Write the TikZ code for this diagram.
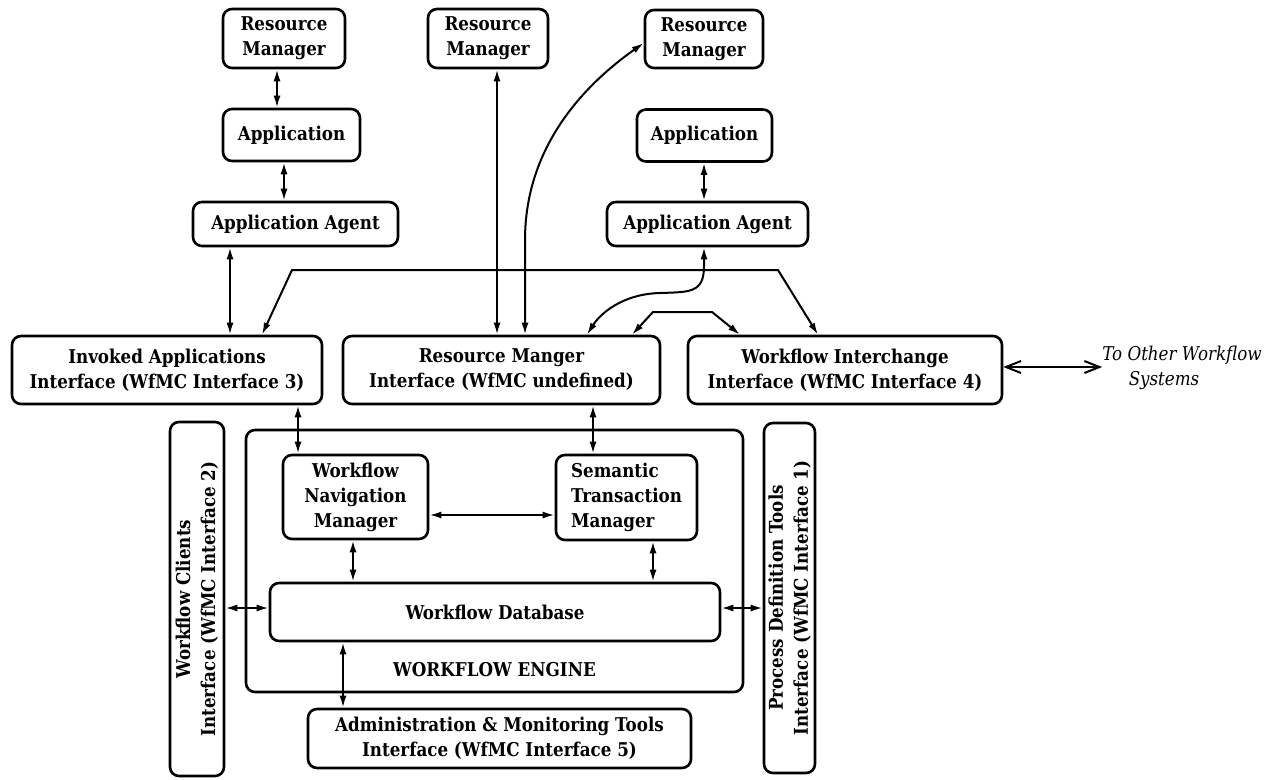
\documentclass[tikz,border=0pt]{standalone}
\usepackage{fontspec}
\newfontfamily\dv{DejaVu Serif}[FakeStretch=0.88]
\usetikzlibrary{arrows.meta,calc}
\begin{document}
\begin{tikzpicture}[x=1pt,y=-1pt,
  box/.style={draw,line width=2.6pt,rounded corners=9pt,align=center,inner sep=0pt,
    font=\dv\fontsize{19}{25}\selectfont\bfseries},
  dbl/.style={line width=2pt,{Latex[length=12pt,width=7pt]}-{Latex[length=12pt,width=7pt]}},
  barb/.style={line width=2pt,{Straight Barb[length=15pt,width=12pt,line width=2pt]}-{Straight Barb[length=15pt,width=12pt,line width=2pt]}},
  lbl/.style={font=\dv\fontsize{19}{25}\selectfont\bfseries,inner sep=0pt}]
\useasboundingbox (0,0) rectangle (1268,779);
% top row
\node[box,minimum width=122pt,minimum height=59pt] (rm1) at (284,38.5) {Resource\\Manager};
\node[box,minimum width=120pt,minimum height=59pt] (rm2) at (488,38.5) {Resource\\Manager};
\node[box,minimum width=118pt,minimum height=58pt] (rm3) at (704,39) {Resource\\Manager};
\node[box,minimum width=137pt,minimum height=52pt] (app1) at (291.5,135) {Application};
\node[box,minimum width=135pt,minimum height=52pt] (app2) at (704.5,135.5) {Application};
\node[box,minimum width=205pt,minimum height=44pt] (aa1) at (295.5,224) {Application Agent};
\node[box,minimum width=201pt,minimum height=44pt] (aa2) at (707.5,224) {Application Agent};
% interface row
\node[box,minimum width=310pt,minimum height=68pt] (iai) at (167,370) {Invoked Applications\\Interface (WfMC Interface 3)};
\node[box,minimum width=317pt,minimum height=68pt] (rmi) at (501.5,370) {Resource Manger\\Interface (WfMC undefined)};
\node[box,minimum width=314pt,minimum height=68pt] (wii) at (845,370) {Workflow Interchange\\Interface (WfMC Interface 4)};
\node[font=\dv\fontsize{19}{25}\selectfont\itshape,align=center,inner sep=0pt] (other) at (1182,368) {To Other Workflow\\Systems\hspace*{36pt}};
% engine
\node[box,minimum width=497pt,minimum height=262pt] (engine) at (494.5,561) {};
\node[box,minimum width=145pt,minimum height=84pt] (wnm) at (355.5,497) {Workflow\\Navigation\\Manager};
\node[box,minimum width=141pt,minimum height=85pt,align=left] (stm) at (626.5,497.5) {Semantic\\Transaction\\Manager};
\node[box,minimum width=450pt,minimum height=58pt] (wdb) at (495,612) {Workflow Database};
\node[lbl] (englbl) at (494.5,670) {WORKFLOW ENGINE};
% side boxes
\node[box,rotate=90,minimum width=354pt,minimum height=54pt] (wci) at (197,599) {Workflow Clients\\Interface (WfMC Interface 2)};
\node[box,rotate=90,minimum width=350pt,minimum height=51pt] (pdt) at (789.5,598) {Process Definition Tools\\Interface (WfMC Interface 1)};
\node[box,minimum width=383pt,minimum height=59pt] (amt) at (499.5,738.5) {Administration \& Monitoring Tools\\Interface (WfMC Interface 5)};
% connectors
\draw[dbl] (rm1.south -| 277,0) -- (app1.north -| 277,0);
\draw[dbl] (app1.south -| 284,0) -- (aa1.north -| 284,0);
\draw[dbl] (app2.south -| 704,0) -- (aa2.north -| 704,0);
\draw[dbl] (aa1.south -| 230,0) -- (iai.north -| 230,0);
\draw[dbl] (rm2.south -| 497,0) -- (rmi.north -| 497,0);
\draw[dbl] (rmi.north -| 525,0) -- (525,240) .. controls (525,150) and (580,88) .. (rm3.west |- 0,43);
\draw[dbl] (aa2.south -| 704,0) -- (704,266) .. controls (704,293) and (690,292) .. (660,293) .. controls (622,294) and (600,314) .. (rmi.north -| 587,0);
\draw[dbl] (rmi.north -| 632,0) -- (653,312) -- (712,312) -- (wii.north -| 740,0);
\draw[dbl] (iai.north -| 262,0) -- (292,270) -- (778,270) -- (wii.north -| 818,0);
\draw[barb] (wii.east |- 0,367) -- (other.west |- 0,367);
\draw[dbl] (iai.south -| 298,0) -- (wnm.north -| 298,0);
\draw[dbl] (rmi.south -| 593,0) -- (stm.north -| 593,0);
\draw[dbl] (wnm.east |- 0,515) -- (stm.west |- 0,515);
\draw[dbl] (wnm.south -| 353,0) -- (wdb.north -| 353,0);
\draw[dbl] (stm.south -| 653,0) -- (wdb.north -| 653,0);
\draw[dbl] (wci.south |- 0,608) -- (wdb.west |- 0,608);
\draw[dbl] (wdb.east |- 0,608) -- (pdt.north |- 0,608);
\draw[dbl] (wdb.south -| 343,0) -- (amt.north -| 343,0);
\end{tikzpicture}
\end{document}
